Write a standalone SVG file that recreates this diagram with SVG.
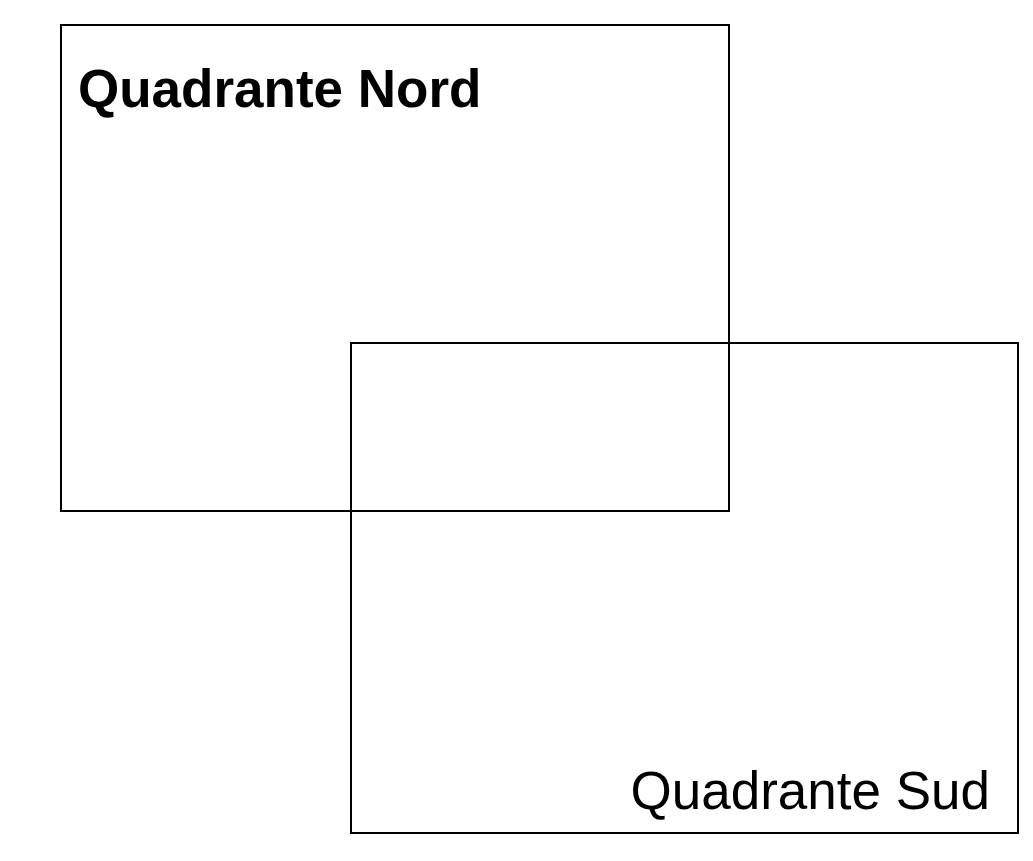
<svg xmlns="http://www.w3.org/2000/svg" width="1033" height="861" viewBox="0 0 1033 861">
<style>
.box{fill:none;stroke:#000;stroke-width:2}
.lbl{font-family:"Liberation Sans",Arial,sans-serif;font-size:53px;fill:#000}
</style>
<rect width="1033" height="861" fill="#fff"/>
<g id="nord">
<rect class="box" x="61" y="25" width="668" height="486"/>
<text class="lbl" x="78" y="107" font-weight="bold">Quadrante Nord</text>
</g>
<g id="sud">
<rect class="box" x="351" y="343" width="667" height="490"/>
<text class="lbl" x="990" y="809" text-anchor="end">Quadrante Sud</text>
</g>
<g id="connectors"/>
</svg>
